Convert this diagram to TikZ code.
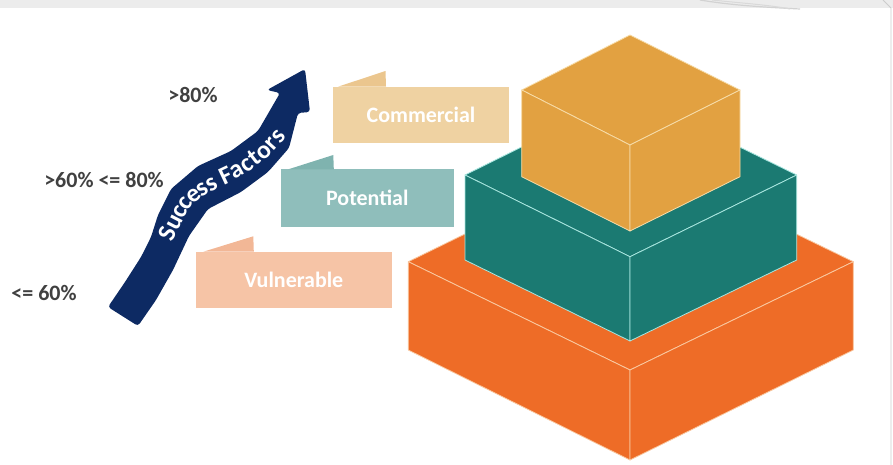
\documentclass[tikz,border=0pt]{standalone}
\usepackage{fontspec}
\setmainfont{Carlito}
\usetikzlibrary{decorations.text}
\definecolor{gold}{HTML}{E2A141}
\definecolor{goldln}{HTML}{F7DCA8}
\definecolor{teal1}{HTML}{1B7A72}
\definecolor{tealln}{HTML}{A8E6DF}
\definecolor{orng}{HTML}{EE6C27}
\definecolor{orngln}{HTML}{F9C8A0}
\definecolor{cbox}{HTML}{EFD2A2}
\definecolor{ctab}{HTML}{EBC68E}
\definecolor{pbox}{HTML}{8FBEBB}
\definecolor{ptab}{HTML}{7FB3AF}
\definecolor{vbox}{HTML}{F6C4A6}
\definecolor{vtab}{HTML}{F2B796}
\definecolor{navy}{HTML}{0D2A63}
\definecolor{pctgray}{HTML}{404040}
\tikzset{
  lbl/.style={rectangle, inner sep=0pt, text=white, font=\bfseries\fontsize{22}{26}\selectfont},
  pct/.style={inner sep=0pt, text=pctgray, font=\bfseries\fontsize{22}{26}\selectfont},
  face/.style={line width=0.8pt, line join=round},
}
\begin{document}
\begin{tikzpicture}[x=1pt,y=-1pt]
\useasboundingbox (0,0) rectangle (893,465);
% top band
\fill[gray!15] (0,0) rectangle (893,8.5);
\draw[gray!35, line width=1.2pt] (700,0) .. controls (730,5) and (760,7) .. (800,9);
\draw[gray!30, line width=1pt] (712,0) .. controls (740,3) and (770,5) .. (790,9);
\draw[gray!40, line width=0.8pt] (883,0) -- (891,8) -- (891,465);

% orange block
\path[face, fill=orng, draw=orngln] (630,153.3) -- (408.3,261.7) -- (630,370) -- (853.3,261.7) -- cycle;
\path[face, fill=orng, draw=orngln] (408.3,261.7) -- (630,370) -- (630,460) -- (408.3,350) -- cycle;
\path[face, fill=orng, draw=orngln] (630,370) -- (853.3,261.7) -- (853.3,350) -- (630,460) -- cycle;
% teal block
\path[face, fill=teal1, draw=tealln] (630,93.3) -- (465,175) -- (630,256.7) -- (796.7,175) -- cycle;
\path[face, fill=teal1, draw=tealln] (465,175) -- (630,256.7) -- (630,341) -- (465,260) -- cycle;
\path[face, fill=teal1, draw=tealln] (630,256.7) -- (796.7,175) -- (796.7,260) -- (630,341) -- cycle;
% gold block
\path[face, fill=gold, draw=goldln] (630,35) -- (521.7,90) -- (630,145) -- (740,90) -- cycle;
\path[face, fill=gold, draw=goldln] (521.7,90) -- (630,145) -- (630,231) -- (521.7,176.7) -- cycle;
\path[face, fill=gold, draw=goldln] (630,145) -- (740,90) -- (740,176.7) -- (630,231) -- cycle;

% label boxes
\node[lbl, fill=cbox, minimum width=176.6pt, minimum height=56.6pt] (com) at (421,115) {Commercial};
\fill[ctab] (338,86.7) -- (385.5,71) -- (386,86.7) -- cycle;
\node[lbl, fill=pbox, minimum width=173.3pt, minimum height=57.4pt] (pot) at (367.3,198) {Potential};
\fill[ptab] (288.3,169.3) -- (333.3,155) -- (333.8,169.3) -- cycle;
\node[lbl, fill=vbox, minimum width=195.7pt, minimum height=56.6pt] (vul) at (293.8,280) {Vulnerable};
\fill[vtab] (203.3,251.7) -- (253.3,236.3) -- (253.8,251.7) -- cycle;

% percent labels
\node[pct] (p80) at (193,95) {>80\%};
\node[pct] (p6080) at (104,180) {>60\% <= 80\%};
\node[pct] (p60) at (44,293) {<= 60\%};

% arrow
\fill[navy, rounded corners=3pt] (108,307) -- (125,282) -- (141,257) -- (151,237) -- (158,215) -- (171,189) -- (198,166) -- (231,151) -- (258,131) -- (280,93)
  -- (267,90) -- (305,69) -- (310,112) -- (298,113) -- (289,148) -- (268,172) -- (241,192) -- (208,209) -- (189,236) -- (173,270) -- (156,300) -- (138,326) -- cycle;
\path[decorate, decoration={text along path, text color=white, text align=center, raise=-8.5pt,
  text={|\bfseries\fontsize{25.5}{28}\selectfont|Success Factors}}]
  plot[smooth] coordinates {(145,268) (162,245) (173,222) (186,199) (209,183) (239,168) (264,149) (285,124) (297,100)};
\end{tikzpicture}
\end{document}
